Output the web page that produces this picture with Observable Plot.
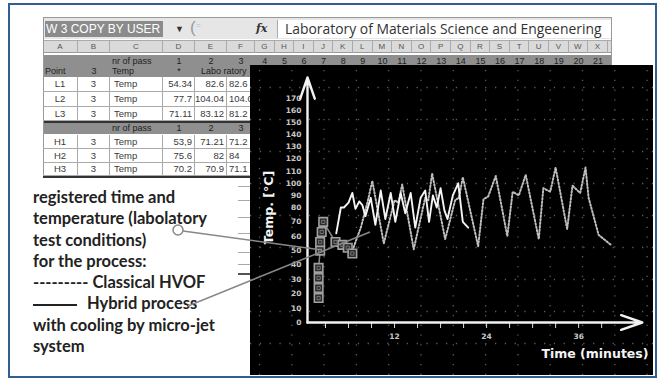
<!DOCTYPE html>
<html><head><meta charset="utf-8">
<script src="https://cdn.jsdelivr.net/npm/d3@7"></script>
<script src="https://cdn.jsdelivr.net/npm/@observablehq/plot@0.6"></script>
<style>
html,body{margin:0;padding:0;background:#fff;}
#page{position:relative;width:664px;height:381px;overflow:hidden;background:#fff;font-family:"Liberation Sans",Arial,sans-serif;}
.abs{position:absolute;box-sizing:border-box;}
.cell{position:absolute;box-sizing:border-box;font-size:9.5px;color:#3a3a3a;line-height:1;display:flex;align-items:center;white-space:nowrap;}
#legend{position:absolute;left:33px;top:187px;font-family:Lato,"Open Sans",sans-serif;font-weight:700;font-size:16.5px;line-height:21.3px;color:#222;white-space:nowrap;}
</style></head><body><div id="page"></div>
<script>
// ---------- data ----------
const columnLetters = ["A","B","C","D","E","F","G","H","I","J","K","L","M","N","O","P","Q","R","S","T","U","V","W","X"];
const passNumbers = d3.range(1, 22).map(String);
const rowPoints = ["L1","L2","L3"];
const rowD = ["54.34","77.7","71.11"];
const rowE = ["82.6","104.04","83.12"];
const rowF = ["82.6","104.04","81.2"];
const hybPoints = ["H1","H2","H3"];
const hybD = ["53,9","75.6","70.2"];
const hybE = ["71.21","82","70.9"];
const hybF = ["71.2","84","71.1"];

// Classical HVOF (dotted)
const hvofTime = [6.5,7.6,8.5,9.1, 10.6,12.0,12.5,13.0, 14.5,16.0,16.4,16.9, 18.6,19.9,20.4,20.9, 22.9,23.6,24.2,25.2, 26.7,27.4,28.2,29.1, 30.8,31.4,32.3,33.0, 34.5,35.2,36.2,36.9, 37.3,38.6,40.2];
const hvofTemp = [50,66,85,102, 55,86,84,99, 51,88,86,108, 58,86,88,105, 53,87,89,106, 60,93,90,107, 58,96,93,113, 65,98,92,113, 88,61,54];
// Hybrid process (solid)
const hybridTime = [4.4,5.0,5.4,6.0,6.5, 6.9,7.4,7.8,8.2,8.9, 9.5,10.2,10.8,11.5,12.1, 12.8,13.4,14.1,14.7,15.4, 16.0,16.5,17.0,17.5,18.0, 18.5,18.9,19.6,20.3,20.9, 21.6];
const hybridTemp = [62,80,80,84,92, 79,85,82,74,88, 68,94,72,92,70, 92,76,92,66,88, 94,70,90,80,96, 78,72,90,100,70, 66];
// boxed start markers
const startTime = [2.1,2.1,2.1,2.1,2.3,2.3,2.5,2.7,4.3,5.2,5.9,6.5];
const startTemp = [17,24,31,38,50,56,63,70,56,54,52,48];

const yTicks = d3.range(0, 171, 10);
const xTicks = d3.range(3, 40, 3);
const xLabels = [12, 24, 36];

// ---------- page ----------
const page = document.getElementById("page");
function box(l, t, w, h, css) {
  const d = document.createElement("div");
  d.className = "abs";
  d.style.cssText += `left:${l}px;top:${t}px;width:${w}px;height:${h}px;` + (css || "");
  page.appendChild(d);
  return d;
}
function cell(l, t, w, h, text, align, css) {
  const d = document.createElement("div");
  d.className = "cell";
  d.style.cssText += `left:${l}px;top:${t}px;width:${w}px;height:${h}px;justify-content:${align === "l" ? "flex-start" : align === "r" ? "flex-end" : "center"};padding:0 2px;` + (css || "");
  d.textContent = text;
  page.appendChild(d);
  return d;
}

// outer frame
box(8, 3, 649, 375, "border:2px solid #2f5f93;");

// sheet
const colX = [43, 78, 110, 163, 195, 227, 255];
for (let k = 1; k <= 18; k++) colX.push(255 + 19.6 * k);
box(43, 17, 569, 161, "border:1px solid #999;background:#fff;");
// formula bar
box(44, 18, 567, 21, "background:#e6e6e6;");
const nb = box(45, 21, 118, 16, "background:#8b8b8b;color:#fff;font-size:12px;line-height:16px;padding-left:1px;white-space:nowrap;");
nb.textContent = "W 3 COPY BY USER";
const dd = box(175, 21, 12, 16, "font-size:9px;line-height:16px;color:#333;"); dd.textContent = "▼";
const br = box(190, 19, 14, 19, "font-size:17px;line-height:18px;color:#999;"); br.textContent = "(";
const eq = box(196, 20, 10, 12, "font-size:8px;line-height:12px;color:#bbb;"); eq.textContent = "=";
const fx = box(256, 21, 18, 16, "font-size:11px;line-height:16px;font-style:italic;font-weight:bold;color:#333;font-family:'DejaVu Serif',serif;"); fx.textContent = "fx";
const fb = box(277, 20, 334, 18, "background:#fff;border-left:1px solid #aaa;font-family:'Open Sans',sans-serif;font-size:13.9px;line-height:18px;color:#333;padding-left:7px;white-space:nowrap;overflow:hidden;");
fb.textContent = "Laboratory of Materials Science and Engeenering";
// column header
box(44, 40, 567, 13, "background:#dadada;border-top:1px solid #aaa;border-bottom:1px solid #999;");
columnLetters.forEach((c, i) => {
  cell(colX[i], 40, colX[i + 1] - colX[i], 13, c, "c", "font-size:8px;color:#555;border-right:1px solid #aaa;");
});
// gray band
box(44, 55, 567, 22, "background:#8f8f8f;");
cell(colX[2], 56, 53, 10, "nr of pass", "l", "font-size:9px;color:#222;");
passNumbers.forEach((p, i) => cell(colX[i + 3], 56, colX[i + 4] - colX[i + 3], 10, p, "c", "font-size:9px;color:#222;"));
cell(colX[0], 66, 35, 11, "Point", "l", "font-size:9px;color:#222;");
cell(colX[1], 66, 32, 11, "3", "c", "font-size:9px;color:#222;");
cell(colX[2], 66, 53, 11, "Temp", "l", "font-size:9px;color:#222;");
cell(colX[3], 66, 32, 11, "*", "c", "font-size:9px;color:#222;");
cell(colX[4] + 4, 66, 60, 11, "Labo ratory", "l", "font-size:9px;color:#222;");
// L rows
function dataRow(top, h, p, dv, ev, fv) {
  cell(colX[0], top, 35, h, p, "c", "border-right:1px solid #aaa;border-bottom:1px solid #aaa;");
  cell(colX[1], top, 32, h, "3", "c", "border-right:1px solid #aaa;border-bottom:1px solid #aaa;");
  cell(colX[2], top, 53, h, "Temp", "l", "border-right:1px solid #aaa;border-bottom:1px solid #aaa;padding-left:4px;");
  cell(colX[3], top, 32, h, dv, "r", "border-right:1px solid #aaa;border-bottom:1px solid #aaa;");
  cell(colX[4], top, 32, h, ev, "r", "border-right:1px solid #aaa;border-bottom:1px solid #aaa;");
  cell(colX[5], top, 30, h, fv, "l", "border-bottom:1px solid #aaa;");
}
const lTops = [77, 92, 107];
rowPoints.forEach((p, i) => dataRow(lTops[i], i === 2 ? 14 : 15, p, rowD[i], rowE[i], rowF[i]));
box(44, 121, 210, 2, "background:#333;");
box(44, 123, 210, 11, "background:#8f8f8f;");
cell(colX[2], 123, 53, 11, "nr of pass", "l", "font-size:9px;color:#222;");
["1","2","3"].forEach((p, i) => cell(colX[i + 3], 123, colX[i + 4] - colX[i + 3], 11, p, "c", "font-size:9px;color:#222;"));
const hTops = [135, 149, 163];
hybPoints.forEach((p, i) => dataRow(hTops[i], i === 2 ? 13 : 14, p, hybD[i], hybE[i], hybF[i]));
box(43, 176, 210, 2, "background:#333;");
// row lines peeking below
[186, 200, 217, 233, 252, 264].forEach(y => box(238, y, 14, 1, "background:#aaa;"));
box(238, 273, 14, 2, "background:#555;");

// ---------- chart ----------
const yDom = [-36.9, 0, 80, 170, 197.2];
const yRng = [310, 257, 142, 33, 0];
const xDom = [-6.78, 45.76];
const pxToTemp = d3.scaleLinear().domain(yRng).range(yDom);
const gridX = d3.range(13).map(k => xDom[0] + (9 + 32.3 * k) / 7.67);
const gridY = d3.range(9).map(k => pxToTemp(22 + 32 * k));

const hvof = hvofTime.map((t, i) => ({t, v: hvofTemp[i]}));
const hybrid = hybridTime.map((t, i) => ({t, v: hybridTemp[i]}));
const starts = startTime.map((t, i) => ({t, v: startTemp[i]}));

const chart = Plot.plot({
  width: 403, height: 310,
  marginLeft: 57, marginBottom: 53, marginTop: 27, marginRight: 5,
  style: {background: "#000", color: "#ccc", fontFamily: "DejaVu Sans", fontSize: "7.5px", fontWeight: "bold", overflow: "visible"},
  x: {domain: xDom, range: [0, 403], label: null},
  y: {type: "linear", domain: yDom, range: yRng, label: null},
  marks: [
    Plot.ruleX(gridX, {y1: yDom[0], y2: yDom[4], stroke: "#5a5a5a", strokeWidth: 1.3, strokeDasharray: "1.3,8.5"}),
    Plot.ruleY(gridY, {x1: xDom[0], x2: xDom[1], stroke: "#5a5a5a", strokeWidth: 1.3, strokeDasharray: "1.3,8.5"}),
    Plot.axisY(yTicks, {anchor: "left", tickSize: 0, tickPadding: 6, fill: "#c8c8c8"}),
    Plot.axisX(xTicks, {anchor: "bottom", tickSize: 6, tickPadding: 5, stroke: "#ddd", fill: "#c8c8c8", tickFormat: d => xLabels.includes(d) ? String(d) : ""}),
    Plot.arrow([{x1: 0.65, y1: 0, x2: 0.65, y2: 187.3}], {x1: "x1", y1: "y1", x2: "x2", y2: "y2", stroke: "#f2f2f2", strokeWidth: 2.4, headLength: 14, headAngle: 38}),
    Plot.arrow([{x1: 0.65, y1: 0, x2: 44.3, y2: 0}], {x1: "x1", y1: "y1", x2: "x2", y2: "y2", stroke: "#f2f2f2", strokeWidth: 2.4, headLength: 14, headAngle: 38}),
    Plot.line(starts, {x: "t", y: "v", stroke: "#8a8a8a", strokeWidth: 1.5}),
    Plot.line(hvof, {x: "t", y: "v", stroke: "#bdbdbd", strokeWidth: 2, strokeDasharray: "1.5,2"}),
    Plot.line(hybrid, {x: "t", y: "v", stroke: "#f4f4f4", strokeWidth: 1.9}),
    Plot.dot(starts, {x: "t", y: "v", symbol: "square", r: 4.8, stroke: "#a0a0a0", strokeWidth: 1.6, fill: "#2a2a2a"}),
    Plot.dot(starts, {x: "t", y: "v", symbol: "square", r: 1.8, stroke: "#777", strokeWidth: 1, fill: "none"}),
    Plot.text(["Temp. [°C]"], {frameAnchor: "left", textAnchor: "middle", rotate: -90, dx: -39, fill: "#f4f4f4", fontSize: 12.5, fontWeight: "bold"}),
    Plot.text(["Time (minutes)"], {frameAnchor: "bottom-right", textAnchor: "end", lineAnchor: "middle", dy: 31, fill: "#f4f4f4", fontSize: 12.5, fontWeight: "bold"})
  ]
});
const holder = box(250, 65, 403, 310, "background:#000;");
holder.appendChild(chart);

// ---------- legend text ----------
const legend = document.createElement("div");
legend.id = "legend";
legend.innerHTML = `registered time and<br>temperature (labolatory<br>test conditions)<br>for the process:<br>--------- Classical HVOF<br><span style="display:inline-block;width:44px;border-top:2px solid #222;vertical-align:middle;margin-right:10px;"></span>Hybrid process<br>with cooling by micro-jet<br>system`;
page.appendChild(legend);

// ---------- leader lines ----------
const ns = "http://www.w3.org/2000/svg";
const ov = document.createElementNS(ns, "svg");
ov.setAttribute("width", 664); ov.setAttribute("height", 381);
ov.style.cssText = "position:absolute;left:0;top:0;pointer-events:none;";
ov.innerHTML = `<circle cx="178" cy="230" r="5" fill="none" stroke="#888" stroke-width="1.5"/>
<line x1="183" y1="231" x2="322" y2="250" stroke="#888" stroke-width="1.5"/>
<line x1="188" y1="306" x2="370" y2="232" stroke="#888" stroke-width="1.5"/>`;
page.appendChild(ov);
</script>
</body></html>
